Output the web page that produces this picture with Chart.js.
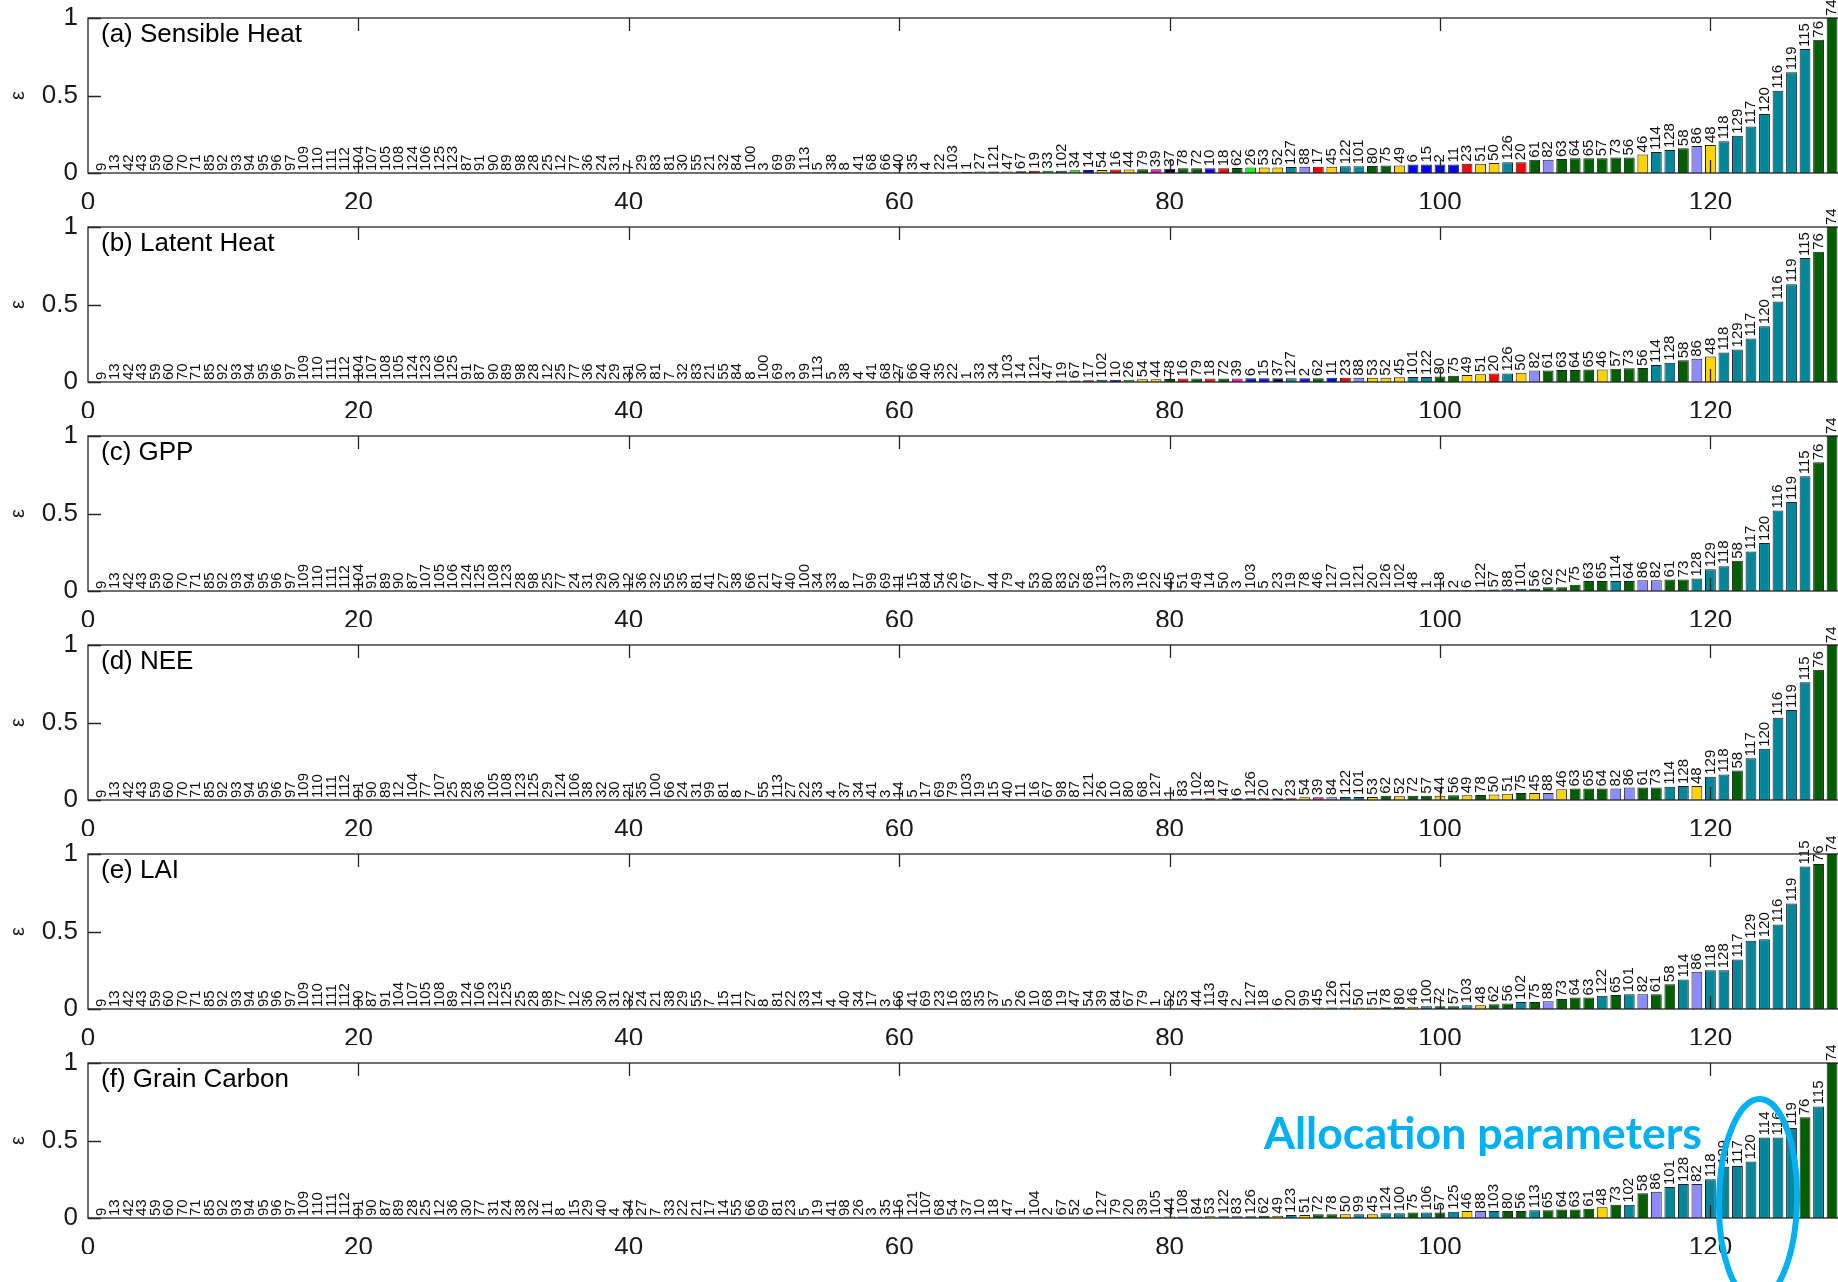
<!DOCTYPE html>
<html lang="en">
<head>
<meta charset="UTF-8" />
<title>Parameter sensitivity</title>
<script src="https://cdn.jsdelivr.net/npm/chart.js@4.4.1/dist/chart.umd.min.js"></script>
<style>
  html, body { margin: 0; padding: 0; background: #fff; overflow: hidden; }
  body { width: 1838px; height: 1282px; position: relative; }
  canvas.panel { position: absolute; left: 0; }
  #overlay { position: absolute; left: 0; top: 0; pointer-events: none; }
</style>
</head>
<body>
<canvas class="panel" id="p0" width="1850" height="237" style="top:0px"></canvas>
<canvas class="panel" id="p1" width="1850" height="237" style="top:209px"></canvas>
<canvas class="panel" id="p2" width="1850" height="237" style="top:418px"></canvas>
<canvas class="panel" id="p3" width="1850" height="237" style="top:627px"></canvas>
<canvas class="panel" id="p4" width="1850" height="237" style="top:836px"></canvas>
<canvas class="panel" id="p5" width="1850" height="237" style="top:1045px"></canvas>
<canvas id="overlay" width="1838" height="1282"></canvas>

<script>
const titles = ["(a) Sensible Heat", "(b) Latent Heat", "(c) GPP", "(d) NEE", "(e) LAI", "(f) Grain Carbon"];
const xTicks = [0, 20, 40, 60, 80, 100, 120];
const yTicks = [0, 0.5, 1];

// parameter groups -> bar colour (last id of each group)
const groupLast = [15, 23, 34, 38, 43, 54, 81, 88, 129];
const groupColor = ["#0000ff", "#ff0000", "#00ff00", "#000033", "#ff00cc", "#ffd200", "#006000", "#8c8cff", "#00879a"];

const idsA = [9,13,42,43,59,60,70,71,85,92,93,94,95,96,97,109,110,111,112,104,107,105,108,124,106,125,123,87,91,90,89,98,28,25,12,77,36,24,31,7,29,83,81,30,55,21,32,84,100,3,69,99,113,5,38,8,41,68,66,40,35,4,22,103,1,27,121,47,67,19,33,102,34,14,54,16,44,79,39,37,78,72,10,18,62,26,53,52,127,88,17,45,122,101,80,75,49,6,15,2,11,23,51,50,126,20,61,82,63,64,65,57,73,56,46,114,128,58,86,48,118,129,117,120,116,119,115,76,74];
const valsA = [
  0,0,0,0,0,0,0,0,0,0,0,0,0,0,0,0,0,0,0,0,
  0,0,0,0,0,0,0,0,0,0,0,0,0,0,0,0,0,0,0,0,
  0.001,0.001,0.001,0.001,0.001,0.002,0.002,0.002,0.002,0.002,0.002,0.003,0.003,0.003,0.003,0.003,0.004,0.004,0.004,0.004,0.005,0.005,0.005,0.005,
  0.006,0.01,0.01,0.01,0.012,0.015,0.015,0.015,0.018,0.02,
  0.02,0.022,0.022,0.025,0.025,0.027,0.03,0.03,0.03,0.03,
  0.032,0.035,0.035,0.035,0.038,0.04,0.04,0.04,0.043,0.043,
  0.045,0.048,0.048,0.055,0.055,0.055,0.055,0.06,0.06,0.065,
  0.07,0.07,0.085,0.085,0.09,0.095,0.095,0.095,0.1,0.1,
  0.12,0.135,0.148,0.16,0.175,0.18,0.205,0.24,0.3,0.38,
  0.53,0.65,0.8,0.86,1.0];

const idsB = [9,13,42,43,59,60,70,71,85,92,93,94,95,96,97,109,110,111,112,104,107,108,105,124,123,106,125,91,87,90,89,98,28,12,25,77,36,24,29,31,30,81,7,32,83,21,55,84,8,100,69,3,99,113,5,38,4,41,68,27,66,40,35,22,1,33,34,103,14,121,47,19,67,17,102,10,26,54,44,78,16,79,18,72,39,6,15,37,127,2,62,11,23,88,53,52,45,101,122,80,75,49,51,20,126,50,82,61,63,64,65,46,57,73,56,114,128,58,86,48,118,129,117,120,116,119,115,76,74];
const valsB = [
  0,0,0,0,0,0,0,0,0,0,0,0,0,0,0,0,0,0,0,0,
  0,0,0,0,0,0,0,0,0,0,0,0,0,0,0,0,0,0,0,0,
  0.001,0.001,0.001,0.001,0.001,0.001,0.001,0.001,0.002,0.002,0.002,0.002,0.002,0.002,0.002,0.002,0.003,0.003,0.003,0.003,0.003,0.003,0.003,0.003,
  0.004,0.004,0.005,0.005,0.005,0.006,0.007,
  0.01,0.01,0.012,0.015,0.015,0.015,0.018,0.018,0.02,0.022,
  0.022,0.022,0.022,0.022,0.024,0.024,0.024,0.024,0.024,0.025,
  0.027,0.027,0.027,0.027,0.027,0.03,0.033,0.033,0.035,0.04,
  0.045,0.05,0.055,0.055,0.06,0.075,0.075,0.077,0.077,0.08,
  0.08,0.085,0.088,0.09,0.11,0.125,0.14,0.15,0.165,0.19,
  0.21,0.28,0.36,0.52,0.63,0.8,0.84,1.0];

const idsC = [9,13,42,43,59,60,70,71,85,92,93,94,95,96,97,109,110,111,112,104,91,89,90,87,107,105,106,124,125,108,123,28,98,25,77,24,31,29,30,12,36,32,55,35,81,41,27,38,66,21,47,40,100,34,33,8,17,99,69,11,15,84,54,26,67,7,44,79,4,53,80,83,52,68,113,37,39,16,22,45,51,49,14,50,3,103,5,23,19,78,46,127,10,121,20,126,102,48,1,18,2,6,122,57,88,101,56,62,72,75,63,65,114,64,86,82,61,73,128,129,118,58,117,120,116,119,115,76,74];
const valsC = [
  0,0,0,0,0,0,0,0,0,0,0,0,0,0,0,0,0,0,0,0,
  0,0,0,0,0,0,0,0,0,0,0,0,0,0,0,0,0,0,0,0,
  0,0,0,0,0,0,0,0,0,0,0,0,0,0,0,0,0,0,0,0,
  0.001,0.001,0.001,0.001,0.001,0.001,0.001,0.001,0.001,0.001,0.001,0.001,0.001,0.001,
  0.002,0.002,0.002,0.002,0.002,0.002,0.002,0.002,0.002,0.002,0.002,0.002,0.002,0.002,
  0.003,0.003,0.003,0.003,0.003,0.003,0.003,0.003,0.004,0.004,0.004,0.004,0.005,0.005,
  0.008,0.01,0.012,0.015,0.015,0.025,0.025,0.04,0.065,0.065,
  0.065,0.065,0.07,0.07,0.075,0.075,0.08,0.14,0.16,0.195,
  0.255,0.31,0.52,0.575,0.74,0.83,1.0];

const idsD = [9,13,42,43,59,60,70,71,85,92,93,94,95,96,97,109,110,111,112,91,90,89,12,104,77,107,25,28,36,105,108,123,125,29,124,106,38,32,30,21,35,100,66,24,31,99,81,8,7,55,113,27,22,33,4,37,34,41,3,14,5,17,69,79,103,19,15,40,11,16,67,98,87,121,26,10,80,68,127,1,83,102,18,47,6,126,20,2,23,54,39,84,122,101,53,62,52,72,57,44,56,49,78,50,51,75,45,88,46,63,65,64,82,86,61,73,114,128,48,129,118,58,117,120,116,119,115,76,74];
const valsD = [
  0,0,0,0,0,0,0,0,0,0,0,0,0,0,0,0,0,0,0,0,
  0,0,0,0,0,0,0,0,0,0,0,0,0,0,0,0,0,0,0,0,
  0,0,0,0,0,0,0,0,0,0,0,0,0,0,0,0,0,0,0,0,
  0.001,0.001,0.001,0.001,0.001,0.001,0.001,0.001,0.001,0.001,
  0.002,0.002,0.002,0.002,0.002,0.002,0.003,0.003,0.003,0.003,
  0.008,0.01,0.012,0.012,0.012,0.012,0.012,0.012,0.012,0.017,
  0.017,0.017,0.02,0.02,0.02,0.028,0.025,0.028,0.028,0.028,
  0.03,0.03,0.033,0.035,0.04,0.045,0.045,0.045,0.07,0.075,
  0.075,0.075,0.075,0.08,0.08,0.08,0.085,0.09,0.09,0.15,
  0.165,0.19,0.27,0.33,0.53,0.58,0.76,0.84,1.0];

const idsE = [9,13,42,43,59,60,70,71,85,92,93,94,95,96,97,109,110,111,112,90,87,91,104,107,105,108,89,124,106,123,125,25,28,98,77,12,36,30,31,32,24,21,38,29,55,7,15,11,27,8,81,22,33,14,4,40,34,17,3,66,41,69,23,16,83,35,37,5,26,10,68,19,47,54,39,84,67,79,1,52,53,44,113,49,2,127,18,6,20,99,45,126,121,50,51,78,80,46,100,72,57,103,48,62,56,102,75,88,73,64,63,122,65,101,82,61,58,114,86,118,128,117,129,120,116,119,115,76,74];
const valsE = [
  0,0,0,0,0,0,0,0,0,0,0,0,0,0,0,0,0,0,0,0,
  0,0,0,0,0,0,0,0,0,0,0,0,0,0,0,0,0,0,0,0,
  0,0,0,0,0,0,0,0,0,0,0,0,0,0,0,0,0,0,0,0,
  0.001,0.001,0.001,0.001,0.001,0.001,0.001,0.001,0.001,0.001,
  0.002,0.002,0.002,0.002,0.002,0.002,0.002,0.002,0.002,0.002,
  0.003,0.003,0.003,0.003,0.003,0.003,0.005,0.005,0.005,0.005,
  0.01,0.01,0.01,0.01,0.01,0.012,0.015,0.015,0.017,0.017,
  0.017,0.025,0.025,0.03,0.035,0.045,0.045,0.05,0.065,0.075,
  0.075,0.085,0.09,0.095,0.095,0.095,0.16,0.19,0.24,0.25,
  0.25,0.32,0.44,0.45,0.545,0.68,0.92,0.935,1.0];

const idsF = [9,13,42,43,59,60,70,71,85,92,93,94,95,96,97,109,110,111,112,91,90,87,89,28,25,12,36,30,77,31,24,38,32,11,8,15,29,40,4,34,27,7,33,22,21,17,14,55,66,69,81,23,5,19,41,98,26,3,35,16,121,107,68,54,37,10,18,47,1,104,2,67,52,6,127,79,20,39,105,44,108,84,53,122,83,126,62,49,123,51,72,78,50,99,45,124,100,75,106,57,125,46,88,103,80,56,113,65,64,63,61,48,73,102,58,86,101,128,82,118,129,117,120,114,116,119,76,115,74];
const valsF = [
  0,0,0,0,0,0,0,0,0,0,0,0,0,0,0,0,0,0,0,0,
  0,0,0,0,0,0,0,0,0,0,0,0,0,0,0,0,0,0,0,0,
  0,0,0,0,0,0,0,0,0,0,0,0,0,0,0,0,
  0.001,0.001,0.001,0.001,0.001,0.001,0.001,0.001,
  0.002,0.002,0.002,0.002,0.002,0.002,0.003,0.003,0.003,0.003,0.003,
  0.005,0.005,0.005,0.005,
  0.01,0.01,0.01,0.012,0.012,0.012,0.012,0.015,0.015,0.02,
  0.02,0.025,0.025,0.025,0.025,0.025,0.03,0.03,0.035,0.035,
  0.035,0.04,0.045,0.045,0.045,0.045,0.045,0.05,0.05,0.055,
  0.055,0.06,0.07,0.085,0.085,0.16,0.17,0.2,0.22,0.22,
  0.25,0.33,0.335,0.365,0.52,0.52,0.58,0.65,0.72,1.0];

const panels = [
  [idsA, valsA], [idsB, valsB], [idsC, valsC],
  [idsD, valsD], [idsE, valsE], [idsF, valsF]
];

const FONT = '"Liberation Sans", Arial, Helvetica, sans-serif';

function colorFor(id) {
  for (let g = 0; g < groupLast.length; g++) {
    if (id <= groupLast[g]) return groupColor[g];
  }
  return groupColor[groupColor.length - 1];
}

// bar id labels, panel title, box and inward ticks (matlab style)
const panelDecor = {
  id: "panelDecor",
  afterDatasetsDraw(chart) {
    const ctx = chart.ctx;
    const area = chart.chartArea;
    const ds = chart.data.datasets[0];
    const meta = chart.getDatasetMeta(0);
    ctx.save();
    ctx.fillStyle = "#111";
    ctx.font = "15px " + FONT;
    ctx.textBaseline = "middle";
    ctx.textAlign = "left";
    meta.data.forEach((bar, i) => {
      ctx.save();
      ctx.translate(bar.x, bar.y - 2);
      ctx.rotate(-Math.PI / 2);
      ctx.fillText(String(ds.ids[i]), 0, 0);
      ctx.restore();
    });

    ctx.strokeStyle = "#262626";
    ctx.lineWidth = 1.3;
    ctx.strokeRect(area.left, area.top, area.right - area.left, area.bottom - area.top);
    const xs = chart.scales.x, ys = chart.scales.y;
    ctx.beginPath();
    xTicks.forEach((v) => {
      if (v === 0) return;
      const px = Math.round(xs.getPixelForValue(v)) + 0.5;
      ctx.moveTo(px, area.top);
      ctx.lineTo(px, area.top + 13);
      ctx.moveTo(px, area.bottom);
      ctx.lineTo(px, area.bottom - 13);
    });
    yTicks.forEach((v) => {
      const py = Math.round(ys.getPixelForValue(v)) + 0.5;
      ctx.moveTo(area.left, py);
      ctx.lineTo(area.left + 13, py);
    });
    ctx.stroke();

    ctx.fillStyle = "#000";
    ctx.font = "26px " + FONT;
    ctx.fillText(ds.title, area.left + 13, area.top + 17);
    ctx.restore();
  }
};

panels.forEach(([ids, vals], k) => {
  const cv = document.getElementById("p" + k);
  new Chart(cv, {
    type: "bar",
    data: {
      datasets: [{
        title: titles[k],
        ids: ids,
        data: ids.map((id, i) => ({ x: i + 1, y: vals[i] })),
        backgroundColor: ids.map(colorFor),
        borderColor: "#1e1e1e",
        borderWidth: 1,
        borderSkipped: "bottom",
        barPercentage: 0.8,
        categoryPercentage: 1.0
      }]
    },
    options: {
      responsive: false,
      animation: false,
      devicePixelRatio: 1,
      layout: { padding: { top: 18, right: 4.4, left: 0, bottom: 28 } },
      plugins: { legend: { display: false }, tooltip: { enabled: false } },
      scales: {
        x: {
          type: "linear",
          offset: false,
          min: 0,
          max: 130,
          grid: { display: false, drawTicks: false, offset: false },
          border: { display: false },
          afterBuildTicks: (s) => { s.ticks = xTicks.map((v) => ({ value: v })); },
          afterFit: (s) => { s.height = 36; s.paddingLeft = 0; s.paddingRight = 0; },
          ticks: { font: { size: 26, family: FONT }, color: "#1a1a1a", padding: 14, maxRotation: 0, autoSkip: false }
        },
        y: {
          min: 0,
          max: 1,
          grid: { display: false, drawTicks: false },
          border: { display: false },
          afterBuildTicks: (s) => { s.ticks = yTicks.map((v) => ({ value: v })); },
          afterFit: (s) => { s.width = 88; s.paddingTop = 0; s.paddingBottom = 0; },
          ticks: { font: { size: 26, family: FONT }, color: "#1a1a1a", padding: 10, callback: (v) => String(v) },
          title: { display: true, text: "ε", color: "#1a1a1a", font: { size: 20, family: FONT }, padding: { top: 6, bottom: 0 } }
        }
      }
    },
    plugins: [panelDecor]
  });
});

// annotation on top of panel (f)
(function drawOverlay() {
  const ctx = document.getElementById("overlay").getContext("2d");
  const label = "Allocation parameters";
  let size = 49;
  ctx.font = "bold " + size + "px Lato, sans-serif";
  const w = ctx.measureText(label).width;
  size = size * 438 / w;
  ctx.font = "bold " + size.toFixed(1) + "px Lato, sans-serif";
  ctx.fillStyle = "#00b0f0";
  ctx.textBaseline = "alphabetic";
  ctx.fillText(label, 1264, 1149);

  ctx.strokeStyle = "#00b0f0";
  ctx.lineWidth = 6;
  ctx.beginPath();
  ctx.ellipse(1758, 1200, 39, 101, 0.02, 0, Math.PI * 2);
  ctx.stroke();
})();
</script>
</body>
</html>
